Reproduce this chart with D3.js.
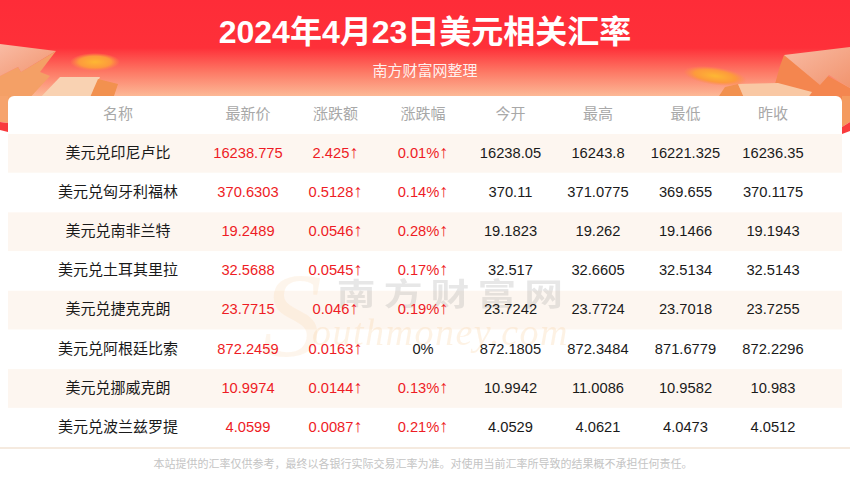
<!DOCTYPE html>
<html>
<head>
<meta charset="utf-8">
<script src="https://cdn.jsdelivr.net/npm/d3@7"></script>
<style>
html,body{margin:0;padding:0;background:#fff;overflow:hidden}
text{font-family:"Liberation Sans","Noto Sans CJK SC",sans-serif}
</style>
</head>
<body>
<div id="chart"></div>
<script>
const headers = ["名称","最新价","涨跌额","涨跌幅","今开","最高","最低","昨收"];
const names = ["美元兑印尼卢比","美元兑匈牙利福林","美元兑南非兰特","美元兑土耳其里拉","美元兑捷克克朗","美元兑阿根廷比索","美元兑挪威克朗","美元兑波兰兹罗提"];
const latest = ["16238.775","370.6303","19.2489","32.5688","23.7715","872.2459","10.9974","4.0599"];
const change = ["2.425↑","0.5128↑","0.0546↑","0.0545↑","0.046↑","0.0163↑","0.0144↑","0.0087↑"];
const changePct = ["0.01%↑","0.14%↑","0.28%↑","0.17%↑","0.19%↑","0%","0.13%↑","0.21%↑"];
const open = ["16238.05","370.11","19.1823","32.517","23.7242","872.1805","10.9942","4.0529"];
const high = ["16243.8","371.0775","19.262","32.6605","23.7724","872.3484","11.0086","4.0621"];
const low = ["16221.325","369.655","19.1466","32.5134","23.7018","871.6779","10.9582","4.0473"];
const prevClose = ["16236.35","370.1175","19.1943","32.5143","23.7255","872.2296","10.983","4.0512"];

const columns = [names, latest, change, changePct, open, high, low, prevClose];
const redCols = [1, 2, 3];

const width = 850, height = 500;
const svg = d3.select("#chart").append("svg")
  .attr("width", width).attr("height", height)
  .attr("viewBox", [0, 0, width, height])
  .style("display", "block");

const defs = svg.append("defs");
const bg = defs.append("linearGradient").attr("id", "bg").attr("x1", 0).attr("x2", 0).attr("y1", 0).attr("y2", 1);
bg.append("stop").attr("offset", "0%").attr("stop-color", "#fe2c38");
bg.append("stop").attr("offset", "47%").attr("stop-color", "#fe3039");
bg.append("stop").attr("offset", "71%").attr("stop-color", "#fd7a66");
bg.append("stop").attr("offset", "100%").attr("stop-color", "#fcc8a2");
const deco = defs.append("linearGradient").attr("id", "deco").attr("x1", 0).attr("x2", 1).attr("y1", 0).attr("y2", 1);
deco.append("stop").attr("offset", "0%").attr("stop-color", "#f9bba4");
deco.append("stop").attr("offset", "100%").attr("stop-color", "#f1946e");
const coin = defs.append("radialGradient").attr("id", "coin");
coin.append("stop").attr("offset", "0%").attr("stop-color", "#fdb733");
coin.append("stop").attr("offset", "65%").attr("stop-color", "#fd9a3c");
coin.append("stop").attr("offset", "100%").attr("stop-color", "#fd8a4c").attr("stop-opacity", 0);
defs.append("filter").attr("id", "soft").append("feGaussianBlur").attr("stdDeviation", 0.7);

// header band
svg.append("rect").attr("width", width).attr("height", 102).attr("fill", "url(#bg)");

// decoration left and right
const decoLeft = [
  {d: "M0,102 L0,76 L18,67 L21,72 L56,51 L40,72 L50,76 L26,102 Z", f: "#f4a066"},
  {d: "M0,44 L56,51 L21,72 L18,67 L0,76 Z", f: "url(#deco)"},
  {d: "M0,96 H8 V123 L0,122 Z", f: "#f6a36c"},
  {d: "M0,122 L8,123 V132 L0,130 Z", f: "#f93a3e"},
  {d: "M36,102 L60,77 L100,77 L88,102 Z", f: "#f9d2b2"},
  {d: "M88,102 L98,79 L118,84 L112,102 Z", f: "#f2914f"}
];
const decoRight = [
  {d: "M850,102 H770 L780,66 L784,55 L805,66 L828,76 L850,88 Z", f: "#f4864f"},
  {d: "M784,55 L850,47 V88 L829,75 L820,85 Z", f: "url(#deco)"},
  {d: "M842,96 H850 V122 L842,127 Z", f: "#f49a5e"},
  {d: "M842,127 L850,122 V131 L842,134 Z", f: "#f93a3e"},
  {d: "M715,102 L725,87 L738,84 L746,102 Z", f: "#f2914f"},
  {d: "M738,84 L778,83 L812,92 L805,102 H746 Z", f: "#f9c8a4"}
];
svg.append("g").attr("filter", "url(#soft)").selectAll("path")
  .data(decoLeft.concat(decoRight)).join("path")
  .attr("d", d => d.d).attr("fill", d => d.f);
svg.append("ellipse").attr("cx", 95).attr("cy", 62).attr("rx", 25).attr("ry", 9).attr("fill", "url(#coin)");
svg.append("ellipse").attr("cx", 715).attr("cy", 76).attr("rx", 32).attr("ry", 9).attr("fill", "url(#coin)").attr("transform", "rotate(8 715 76)");

// card
svg.append("path")
  .attr("d", "M8,102 a6,6 0 0 1 6,-6 H836 a6,6 0 0 1 6,6 V447 H8 Z")
  .attr("fill", "#fff");

const x = d3.scalePoint().domain(d3.range(1, 8)).range([248, 773]);
const colX = i => i === 0 ? 118 : x(i);
const y = d3.scaleBand().domain(d3.range(names.length)).range([133.5, 447]);

// striped rows
svg.append("g").selectAll("rect")
  .data(d3.range(names.length).filter(i => i % 2 === 0))
  .join("rect")
  .attr("x", 8).attr("width", 834)
  .attr("y", i => y(i) + 0.5).attr("height", y.bandwidth() - 0.5)
  .attr("fill", "#fdf6f0");
svg.append("rect").attr("x", 0).attr("y", 447).attr("width", width).attr("height", 2).attr("fill", "#f5eadf");

// watermark
const wm = svg.append("g").attr("pointer-events", "none");
wm.append("text").attr("transform", "translate(454,305) scale(1.25,1)").attr("text-anchor", "middle")
  .attr("font-size", 31).attr("letter-spacing", 6.5).attr("font-weight", 700)
  .attr("fill", "#8a8a8a").attr("opacity", 0.2).text("南方财富网");
wm.append("text").attr("x", 262).attr("y", 356).attr("font-size", 120)
  .attr("font-style", "italic").attr("fill", "#f9cc98").attr("opacity", 0.18)
  .style("font-family", "'Liberation Serif',serif").text("S");
wm.append("text").attr("x", 312).attr("y", 345).attr("font-size", 38).attr("letter-spacing", 1.5)
  .attr("font-style", "italic").attr("fill", "#f9cc98").attr("opacity", 0.25)
  .style("font-family", "'Liberation Serif',serif").text("outhmoney.com");

// title
svg.append("text").attr("x", 425).attr("y", 43).attr("text-anchor", "middle")
  .attr("font-size", 32).attr("font-weight", 700).attr("fill", "#fff").text("2024年4月23日美元相关汇率");
svg.append("text").attr("x", 425).attr("y", 76).attr("text-anchor", "middle")
  .attr("font-size", 15).attr("fill", "#fff").attr("fill-opacity", 0.92).text("南方财富网整理");

// column headers
svg.append("g").selectAll("text").data(headers).join("text")
  .attr("x", (d, i) => colX(i)).attr("y", 118.5)
  .attr("text-anchor", "middle").attr("font-size", 15).attr("fill", "#a8a8a8")
  .text(d => d);

// table cells, arrows get a taller glyph
columns.forEach((col, c) => {
  svg.append("g").selectAll("text").data(col).join("text")
    .attr("x", colX(c))
    .attr("y", (d, i) => y(i) + y.bandwidth() / 2 + 4.6)
    .attr("text-anchor", "middle")
    .attr("font-size", c === 0 ? 15 : 14.7)
    .attr("fill", d => redCols.includes(c) && d !== "0%" ? "#ee1c25" : "#1a1a1a")
    .each(function(d) {
      const t = d3.select(this);
      if (d.endsWith("↑")) {
        t.append("tspan").text(d.slice(0, -1));
        t.append("tspan").attr("font-size", 18).text("↑");
      } else {
        t.text(d);
      }
    });
});

// disclaimer
svg.append("text").attr("x", 423).attr("y", 468).attr("text-anchor", "middle")
  .attr("font-size", 11).attr("fill", "#c4c4c4")
  .text("本站提供的汇率仅供参考，最终以各银行实际交易汇率为准。对使用当前汇率所导致的结果概不承担任何责任。");
</script>
</body>
</html>
